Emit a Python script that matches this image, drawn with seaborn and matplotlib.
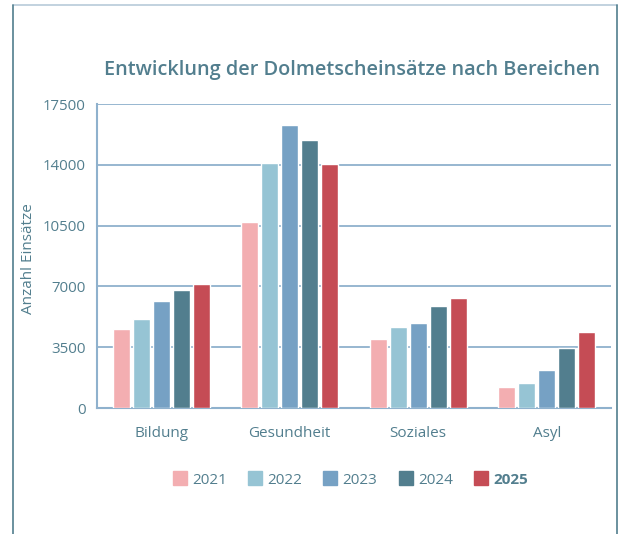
import numpy as np
import pandas as pd
import matplotlib
matplotlib.use('Agg')
import matplotlib.pyplot as plt
from matplotlib.lines import Line2D
import seaborn as sns

sns.set_style("white")
plt.rcParams['font.family'] = ['Open Sans', 'DejaVu Sans']

# == data
bereiche = ['Bildung', 'Gesundheit', 'Soziales', 'Asyl']
jahre = ['2021', '2022', '2023', '2024', '2025']
v2021 = [4550, 10700, 3970, 1210]
v2022 = [5120, 14100, 4660, 1440]
v2023 = [6160, 16300, 4890, 2190]
v2024 = [6790, 15430, 5870, 3450]
v2025 = [7140, 14050, 6330, 4380]
yticks = [0, 3500, 7000, 10500, 14000, 17500]

farben = ['#f3aeb1', '#96c4d4', '#76a1c4', '#527e8e', '#c54c55']
txt = '#527e8e'
grid_c = '#8fb1cd'

df = pd.DataFrame({'Bereich': bereiche * 5,
                   'Jahr': np.repeat(jahre, 4),
                   'Wert': v2021 + v2022 + v2023 + v2024 + v2025})

fig = plt.figure(figsize=(6.24, 5.34), dpi=100)
ax = fig.add_axes([97/624, 1-408/534, (611-97)/624, (408-104)/534])

sns.barplot(data=df, x='Bereich', y='Wert', hue='Jahr', palette=farben,
            width=0.78, gap=0.15, saturation=1, legend=False, ax=ax, zorder=3)

ax.set_ylim(0, 17500)
ax.set_xlim(-0.5, 3.5)
ax.set_yticks(yticks)
ax.set_yticklabels([str(t) for t in yticks])
ax.yaxis.grid(True, color=grid_c, lw=1.3, zorder=0)
ax.set_axisbelow(True)
for s in ['top', 'right']:
    ax.spines[s].set_visible(False)
for s in ['left', 'bottom']:
    ax.spines[s].set_color(grid_c)
    ax.spines[s].set_linewidth(1.5)
ax.set_xticks(np.arange(-0.5, 4, 1), minor=True)
ax.tick_params(axis='x', which='minor', direction='in', length=4, color=grid_c, width=1.2)
ax.tick_params(axis='x', which='major', length=0, pad=13, labelsize=11, labelcolor=txt)
ax.tick_params(axis='y', length=0, pad=8, labelsize=10.8, labelcolor=txt)
ax.set_xlabel('')
ax.set_ylabel('Anzahl Einsätze', color=txt, fontsize=11)
ax.yaxis.set_label_coords((36-97)/514, 0.49)

fig.text(352/624, 1-70/534, 'Entwicklung der Dolmetscheinsätze nach Bereichen',
         ha='center', va='center', fontsize=14.3, fontweight='semibold', color=txt)

# legend
handles = [Line2D([], [], marker='s', ls='', markersize=10, color=c) for c in farben]
leg = fig.legend(handles, jahre, loc='center', bbox_to_anchor=(350/624, 1-480/534),
                 ncol=5, frameon=False, fontsize=11, handletextpad=0.3,
                 columnspacing=1.35, handlelength=1.0)
for t in leg.get_texts():
    t.set_color(txt)
leg.get_texts()[-1].set_fontweight('bold')

# frame around the figure
fig.add_artist(Line2D([13/624, 617/624], [1-5/534, 1-5/534], color='#b7cbd9', lw=1.2))
fig.add_artist(Line2D([13/624, 13/624], [0, 1-5/534], color='#527e8e', lw=1.2))
fig.add_artist(Line2D([617/624, 617/624], [0, 1-5/534], color='#527e8e', lw=1.2))

fig.savefig('out.png', dpi=100)
